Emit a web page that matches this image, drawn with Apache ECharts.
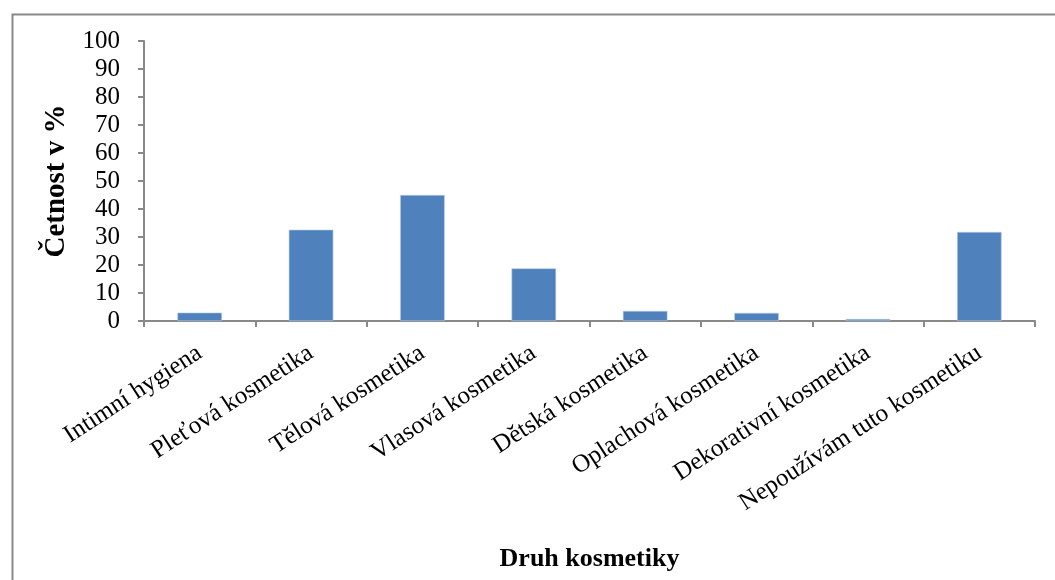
<!DOCTYPE html>
<html>
<head>
<meta charset="utf-8">
<script src="https://cdn.jsdelivr.net/npm/echarts@6/dist/echarts.min.js"></script>
<style>html,body{margin:0;padding:0;background:#fff;}#c{width:1055px;height:580px;}</style>
</head>
<body>
<div id="c"></div>
<script>
const categories = ["Intimní hygiena","Pleťová kosmetika","Tělová kosmetika","Vlasová kosmetika","Dětská kosmetika","Oplachová kosmetika","Dekorativní kosmetika","Nepoužívám tuto kosmetiku"];
const values = [3.0, 32.6, 45.0, 18.8, 3.6, 2.9, 0.7, 31.8];
const yTitle = "Četnost v %";
const xTitle = "Druh kosmetiky";

const font = '"Liberation Serif","Times New Roman",serif';
const axisColor = '#898989';
const chart = echarts.init(document.getElementById('c'), null, {renderer:'canvas'});
chart.setOption({
  animation: false,
  backgroundColor: '#fff',
  graphic: [{
    type: 'rect', left: 10, top: 12,
    shape: {width: 1044, height: 600},
    style: {fill: 'none', stroke: axisColor, lineWidth: 2}, silent: true
  }],
  grid: {left: 144, right: 20, top: 41, bottom: 259, containLabel: false},
  xAxis: {
    type: 'category', data: categories, boundaryGap: true,
    axisLine: {lineStyle: {color: axisColor, width: 2}},
    axisTick: {show: true, length: 6, alignWithLabel: false, lineStyle: {color: axisColor, width: 2}},
    axisLabel: {rotate: 33, interval: 0, margin: 30, color: '#000', fontFamily: font, fontSize: 25},
    name: xTitle, nameLocation: 'middle', nameGap: 225,
    nameTextStyle: {fontFamily: font, fontSize: 26, fontWeight: 'bold', color: '#000'}
  },
  yAxis: {
    type: 'value', min: 0, max: 100, interval: 10,
    axisLine: {show: true, lineStyle: {color: axisColor, width: 2}},
    axisTick: {show: true, length: 6, lineStyle: {color: axisColor, width: 2}},
    splitLine: {show: false},
    axisLabel: {margin: 24, color: '#000', fontFamily: font, fontSize: 25},
    name: yTitle, nameLocation: 'middle', nameRotate: 90, nameGap: 73,
    nameTextStyle: {fontFamily: font, fontSize: 29, fontWeight: 'bold', color: '#000'}
  },
  series: [{
    type: 'bar', data: values, barWidth: '40%',
    itemStyle: {color: '#4F81BD', borderColor: '#B9CDE5', borderWidth: 0.6}
  }]
});
</script>
</body>
</html>
